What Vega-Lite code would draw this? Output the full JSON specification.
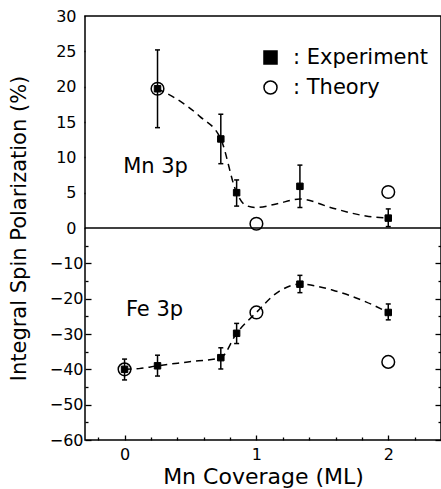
{
  "$schema": "https://vega.github.io/schema/vega-lite/v6.json",
  "width": 356,
  "height": 424,
  "autosize": {"type": "none"},
  "padding": {"left": 85, "top": 16, "right": 0, "bottom": 49},
  "background": "white",
  "config": {
    "view": {"stroke": "black", "strokeWidth": 1.5},
    "font": "DejaVu Sans",
    "axis": {
      "labelFont": "DejaVu Sans", "labelFontSize": 16, "labelColor": "black",
      "titleFont": "DejaVu Sans", "titleFontSize": 21, "titleFontWeight": "normal", "titleColor": "black",
      "tickColor": "black", "tickWidth": 1.3, "domain": false, "grid": false
    }
  },
  "datasets": {
    "exp": [
      {"series": "Mn 3p", "kind": "Experiment", "x": 0.25, "y": 19.7, "lo": 14.2, "hi": 25.2},
      {"series": "Mn 3p", "kind": "Experiment", "x": 0.73, "y": 12.6, "lo": 9.1, "hi": 16.1},
      {"series": "Mn 3p", "kind": "Experiment", "x": 0.85, "y": 5.0, "lo": 3.1, "hi": 6.8},
      {"series": "Mn 3p", "kind": "Experiment", "x": 1.33, "y": 5.9, "lo": 2.9, "hi": 8.9},
      {"series": "Mn 3p", "kind": "Experiment", "x": 2.0, "y": 1.4, "lo": 0.2, "hi": 2.7},
      {"series": "Fe 3p", "kind": "Experiment", "x": 0.0, "y": -40.0, "lo": -43.0, "hi": -37.1},
      {"series": "Fe 3p", "kind": "Experiment", "x": 0.25, "y": -39.0, "lo": -41.9, "hi": -36.0},
      {"series": "Fe 3p", "kind": "Experiment", "x": 0.73, "y": -36.7, "lo": -39.9, "hi": -33.9},
      {"series": "Fe 3p", "kind": "Experiment", "x": 0.85, "y": -29.8, "lo": -32.7, "hi": -27.0},
      {"series": "Fe 3p", "kind": "Experiment", "x": 1.33, "y": -15.9, "lo": -18.3, "hi": -13.4},
      {"series": "Fe 3p", "kind": "Experiment", "x": 2.0, "y": -23.9, "lo": -26.0, "hi": -21.5}
    ],
    "theory": [
      {"series": "Mn 3p", "kind": "Theory", "x": 0.25, "y": 19.7},
      {"series": "Mn 3p", "kind": "Theory", "x": 1.0, "y": 0.6},
      {"series": "Mn 3p", "kind": "Theory", "x": 2.0, "y": 5.1},
      {"series": "Fe 3p", "kind": "Theory", "x": 0.0, "y": -40.0},
      {"series": "Fe 3p", "kind": "Theory", "x": 1.0, "y": -23.9},
      {"series": "Fe 3p", "kind": "Theory", "x": 2.0, "y": -37.9}
    ],
    "curve": [
      {"series": "Mn 3p", "x": 0.25, "y": 19.7},
      {"series": "Mn 3p", "x": 0.40, "y": 18.2},
      {"series": "Mn 3p", "x": 0.57, "y": 15.8},
      {"series": "Mn 3p", "x": 0.73, "y": 12.6},
      {"series": "Mn 3p", "x": 0.85, "y": 5.0},
      {"series": "Mn 3p", "x": 0.92, "y": 3.2},
      {"series": "Mn 3p", "x": 1.0, "y": 2.9},
      {"series": "Mn 3p", "x": 1.15, "y": 3.4},
      {"series": "Mn 3p", "x": 1.33, "y": 4.1},
      {"series": "Mn 3p", "x": 1.58, "y": 2.8},
      {"series": "Mn 3p", "x": 1.83, "y": 1.7},
      {"series": "Mn 3p", "x": 2.0, "y": 1.4},
      {"series": "Fe 3p", "x": 0.0, "y": -40.0},
      {"series": "Fe 3p", "x": 0.11, "y": -39.8},
      {"series": "Fe 3p", "x": 0.25, "y": -39.0},
      {"series": "Fe 3p", "x": 0.48, "y": -37.9},
      {"series": "Fe 3p", "x": 0.73, "y": -36.7},
      {"series": "Fe 3p", "x": 0.85, "y": -29.8},
      {"series": "Fe 3p", "x": 1.0, "y": -23.9},
      {"series": "Fe 3p", "x": 1.15, "y": -18.5},
      {"series": "Fe 3p", "x": 1.33, "y": -15.9},
      {"series": "Fe 3p", "x": 1.58, "y": -17.6},
      {"series": "Fe 3p", "x": 1.83, "y": -20.9},
      {"series": "Fe 3p", "x": 2.0, "y": -23.9}
    ],
    "labels": [
      {"label": "Mn 3p", "x": 0.235, "y": 7.8},
      {"label": "Fe 3p", "x": 0.227, "y": -24.9}
    ],
    "zero": [{"v": 0}]
  },
  "layer": [
    {
      "data": {"name": "zero"},
      "mark": {"type": "rule", "strokeWidth": 1.5, "color": "black"},
      "encoding": {
        "y": {
          "field": "v", "type": "quantitative",
          "scale": {"domain": [-60, 0, 30], "range": [424, 212, 0], "nice": false, "zero": false},
          "axis": {
            "orient": "right", "title": null, "labels": false,
            "values": [-60,-55,-50,-45,-40,-35,-30,-25,-20,-15,-10,-5,0,2.5,5,7.5,10,12.5,15,17.5,20,22.5,25,27.5,30],
            "tickSize": {"condition": {"test": "datum.value >= 0 ? datum.value % 5 === 0 : datum.value % 10 === 0", "value": -6}, "value": -3}
          }
        }
      }
    },
    {
      "data": {"name": "curve"},
      "mark": {"type": "line", "interpolate": "monotone", "color": "black", "strokeWidth": 1.5, "strokeDash": [7, 5]},
      "encoding": {
        "x": {
          "field": "x", "type": "quantitative",
          "scale": {"domain": [-0.3, 2.4], "nice": false, "zero": false},
          "axis": {
            "title": "Mn Coverage (ML)", "titleFontSize": 22,
            "values": [-0.2, 0, 0.2, 0.4, 0.6, 0.8, 1, 1.2, 1.4, 1.6, 1.8, 2, 2.2],
            "labelExpr": "abs(datum.value - round(datum.value)) < 0.01 ? format(datum.value, 'd') : ''",
            "tickSize": {"condition": {"test": "abs(datum.value - round(datum.value)) < 0.01", "value": -5}, "value": -3},
            "labelPadding": 11, "titlePadding": 2, "labelFlush": false, "labelOverlap": false
          }
        },
        "y": {
          "field": "y", "type": "quantitative",
          "scale": {"domain": [-60, 0, 30], "range": [424, 212, 0], "nice": false, "zero": false},
          "axis": {
            "title": "Integral Spin Polarization (%)", "format": "d",
            "values": [-60,-55,-50,-45,-40,-35,-30,-25,-20,-15,-10,-5,0,2.5,5,7.5,10,12.5,15,17.5,20,22.5,25,27.5,30],
            "labelExpr": "(datum.value >= 0 ? datum.value % 5 === 0 : datum.value % 10 === 0) ? datum.label : ''",
            "tickSize": {"condition": {"test": "datum.value >= 0 ? datum.value % 5 === 0 : datum.value % 10 === 0", "value": -6}, "value": -3},
            "labelPadding": 8, "titlePadding": 20, "labelOverlap": false, "labelFlush": false
          }
        },
        "detail": {"field": "series", "type": "nominal"}
      }
    },
    {
      "data": {"name": "exp"},
      "mark": {"type": "rule", "color": "black", "strokeWidth": 1.5},
      "encoding": {
        "x": {"field": "x", "type": "quantitative", "axis": null},
        "y": {"field": "lo", "type": "quantitative", "axis": null},
        "y2": {"field": "hi"}
      }
    },
    {
      "data": {"name": "exp"},
      "mark": {"type": "tick", "orient": "horizontal", "color": "black", "size": 5, "thickness": 1.5, "opacity": 1},
      "encoding": {
        "x": {"field": "x", "type": "quantitative", "axis": null},
        "y": {"field": "lo", "type": "quantitative", "axis": null}
      }
    },
    {
      "data": {"name": "exp"},
      "mark": {"type": "tick", "orient": "horizontal", "color": "black", "size": 5, "thickness": 1.5, "opacity": 1},
      "encoding": {
        "x": {"field": "x", "type": "quantitative", "axis": null},
        "y": {"field": "hi", "type": "quantitative", "axis": null}
      }
    },
    {
      "data": {"name": "theory"},
      "mark": {"type": "point", "size": 160, "stroke": "black", "strokeWidth": 1.5, "opacity": 1},
      "encoding": {
        "x": {"field": "x", "type": "quantitative", "axis": null},
        "y": {"field": "y", "type": "quantitative", "axis": null},
        "shape": {
          "field": "kind", "type": "nominal",
          "scale": {"domain": ["Experiment", "Theory"], "range": ["square", "circle"]},
          "legend": {
            "title": null, "orient": "none", "legendX": 175, "legendY": 31,
            "labelExpr": "': ' + datum.label", "labelFont": "DejaVu Sans", "labelFontSize": 21, "labelColor": "black",
            "labelOffset": 12, "rowPadding": 8, "symbolSize": 170, "symbolStrokeColor": "black", "symbolStrokeWidth": 1.5, "symbolOpacity": 1,
            "encode": {"symbols": {"update": {"stroke": {"value": "black"}, "strokeWidth": {"value": 1.5}}}}
          }
        },
        "fill": {
          "field": "kind", "type": "nominal",
          "scale": {"domain": ["Experiment", "Theory"], "range": ["black", "transparent"]},
          "legend": {
            "title": null, "orient": "none", "legendX": 175, "legendY": 31,
            "labelExpr": "': ' + datum.label", "labelFont": "DejaVu Sans", "labelFontSize": 21, "labelColor": "black",
            "labelOffset": 12, "rowPadding": 8, "symbolSize": 170, "symbolStrokeColor": "black", "symbolStrokeWidth": 1.5, "symbolOpacity": 1,
            "encode": {"symbols": {"update": {"stroke": {"value": "black"}, "strokeWidth": {"value": 1.5}}}}
          }
        }
      }
    },
    {
      "data": {"name": "exp"},
      "mark": {"type": "point", "size": 42, "stroke": "black", "strokeWidth": 1, "opacity": 1},
      "encoding": {
        "x": {"field": "x", "type": "quantitative", "axis": null},
        "y": {"field": "y", "type": "quantitative", "axis": null},
        "shape": {"field": "kind", "type": "nominal"},
        "fill": {"field": "kind", "type": "nominal"}
      }
    },
    {
      "data": {"name": "labels"},
      "mark": {"type": "text", "font": "DejaVu Sans", "fontSize": 21, "align": "center", "baseline": "alphabetic", "color": "black"},
      "encoding": {
        "x": {"field": "x", "type": "quantitative", "axis": null},
        "y": {"field": "y", "type": "quantitative", "axis": null},
        "text": {"field": "label"}
      }
    }
  ],
  "resolve": {"axis": {"x": "independent", "y": "independent"}}
}
